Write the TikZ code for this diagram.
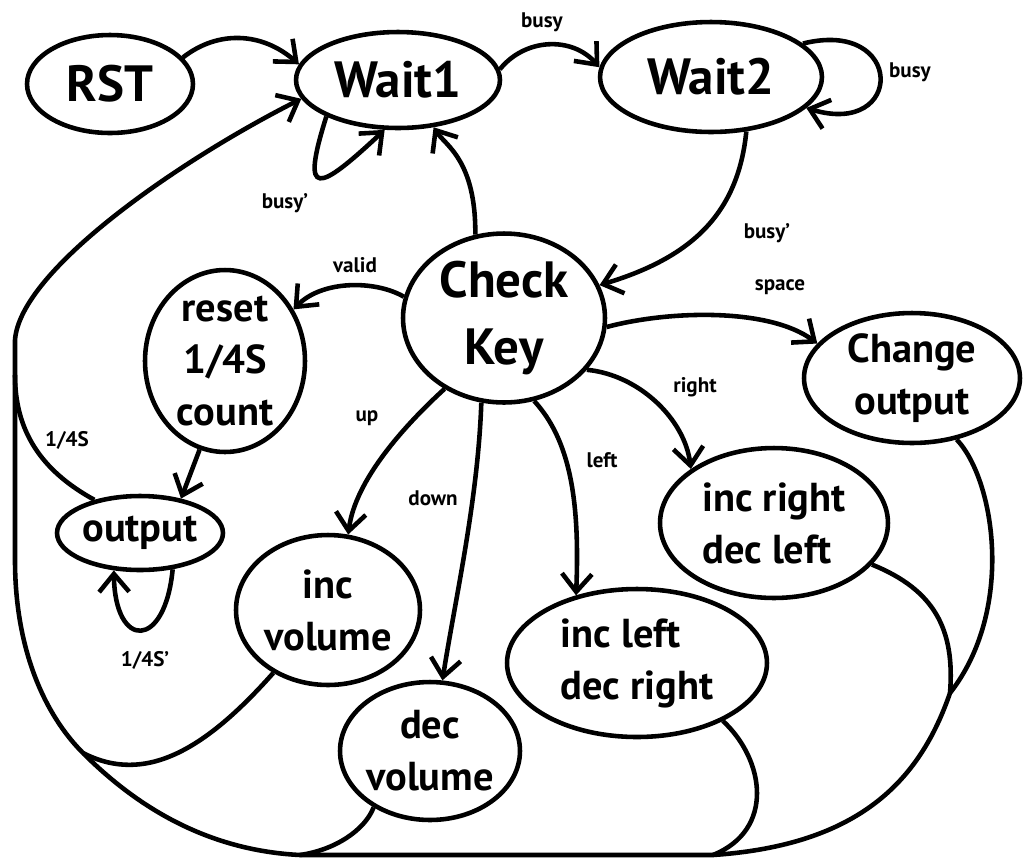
\documentclass[tikz,border=0pt]{standalone}
\usepackage{fontspec}
\setmainfont{PT Sans}
\usetikzlibrary{shapes.geometric, arrows.meta}

\newcommand\stbig{\fontsize{29}{38}\selectfont\bfseries}
\newcommand\stmid{\fontsize{23}{29.5}\selectfont\bfseries}
\newcommand\stlbl{\fontsize{12}{14}\selectfont\bfseries}

\tikzset{
  st/.style={draw, ellipse, inner sep=-1cm, align=center, font=\stmid},
  big/.style={st, font=\stbig},
  lbl/.style={inner sep=1pt, font=\stlbl},
}

\begin{document}
\begin{tikzpicture}[x=0.02cm, y=0.02cm, line width=2.6pt,
    >={Straight Barb[length=3.6mm, width=6mm]}]
  \useasboundingbox (0,0) rectangle (1029,-867);

  % states
  \node [big, minimum width=3.32cm, minimum height=1.96cm] (RST) at (110,-84) {RST};
  \node [big, minimum width=4.08cm, minimum height=1.92cm] (W1) at (398,-80) {Wait1};
  \node [big, minimum width=4.44cm, minimum height=2.2cm] (W2) at (711,-77) {Wait2};
  \node [big, minimum width=4.04cm, minimum height=3.38cm] (CK) at (504,-318) {Check\\Key};
  \node [st, minimum width=3.2cm, minimum height=3.64cm] (RS) at (225,-361) {reset\\1/4S\\count};
  \node [st, minimum width=3.32cm, minimum height=1.48cm] (OUT) at (140,-533) {output};
  \node [st, minimum width=3.68cm, minimum height=3cm] (IV) at (328,-610) {inc\\volume};
  \node [st, minimum width=3.6cm, minimum height=2.76cm] (DV) at (430,-751) {dec\\volume};
  \node [st, align=left, minimum width=5.2cm, minimum height=2.96cm] (ILDR) at (637,-663) {inc left\\dec right};
  \node [st, align=left, minimum width=4.56cm, minimum height=3cm] (IRDL) at (774,-523) {inc right\\dec left};
  \node [st, minimum width=4.32cm, minimum height=2.6cm] (CO) at (912,-378) {Change\\output};

  % where the return lines meet
  \coordinate (jR) at (950,-693);
  \coordinate (jB1) at (713,-855);
  \coordinate (jB2) at (300,-855);
  \coordinate (jL1) at (83,-753);
  \coordinate (jL2) at (15,-375);

  % transitions
  \draw [->] (RST.20) .. controls (218,-30) and (262,-32) .. (W1.171);
  \draw [->] (W1.6) .. controls (525,-38) and (572,-36) .. (W2.175);
  \draw [->] (W2.20) .. controls (905,-18) and (905,-138) .. (W2.-18);
  \draw [->] (W1.207) .. controls (300,-200) and (318,-192) .. (W1.255);
  \draw [->] (W2.-57) .. controls (738,-215) and (690,-258) .. (CK.19);
  \draw [->] (CK.109) .. controls (476,-160) and (445,-145) .. (W1.-53);
  \draw [->] (CK.168) .. controls (375,-280) and (322,-280) .. (RS.37);
  \draw [->] (CK.-5) .. controls (670,-310) and (770,-308) .. (CO.160);
  \draw [->] (CK.-32) .. controls (640,-375) and (685,-420) .. (IRDL.147);
  \draw [->] (CK.-70) .. controls (570,-440) and (580,-500) .. (ILDR.132);
  \draw [->] (CK.255) .. controls (478,-500) and (455,-600) .. (DV.80);
  \draw [->] (CK.230) .. controls (405,-425) and (355,-480) .. (IV.75);
  \draw [->] (RS.254) -- (OUT.40);
  \draw [->] (OUT.-48) .. controls (165,-650) and (115,-650) .. (OUT.235);

  % everything goes back to Wait1
  \draw [->] (CO.-54) .. controls (995,-480) and (1015,-610) .. (jR)
    .. controls (920,-780) and (860,-845) .. (jB1) -- (jB2)
    .. controls (200,-850) and (130,-800) .. (jL1)
    .. controls (45,-715) and (15,-650) .. (15,-560) -- (jL2) -- (15,-340)
    .. controls (20,-270) and (180,-160) .. (W1.191);
  \draw (IRDL.-23) .. controls (935,-590) and (955,-630) .. (jR);
  \draw (ILDR.-34) .. controls (765,-760) and (775,-830) .. (jB1);
  \draw (DV.225) .. controls (365,-830) and (335,-850) .. (jB2);
  \draw (IV.229) .. controls (205,-750) and (145,-785) .. (jL1);
  \draw (OUT.144) .. controls (40,-470) and (15,-430) .. (jL2);

  % conditions
  \node [lbl] (lBusy) at (542,-22) {busy};
  \node [lbl] (lBusyW2) at (910,-72) {busy};
  \node [lbl] (lNBusy) at (285,-203) {busy'};
  \node [lbl] (lNBusyW2) at (767,-233) {busy'};
  \node [lbl] (lValid) at (355,-265) {valid};
  \node [lbl] (lSpace) at (780,-287) {space};
  \node [lbl] (lRight) at (695,-387) {right};
  \node [lbl] (lLeft) at (602,-460) {left};
  \node [lbl] (lUp) at (367,-418) {up};
  \node [lbl] (lDown) at (433,-498) {down};
  \node [lbl] (lQuarter) at (67,-440) {1/4S};
  \node [lbl] (lNQuarter) at (145,-660) {1/4S'};
\end{tikzpicture}
\end{document}
